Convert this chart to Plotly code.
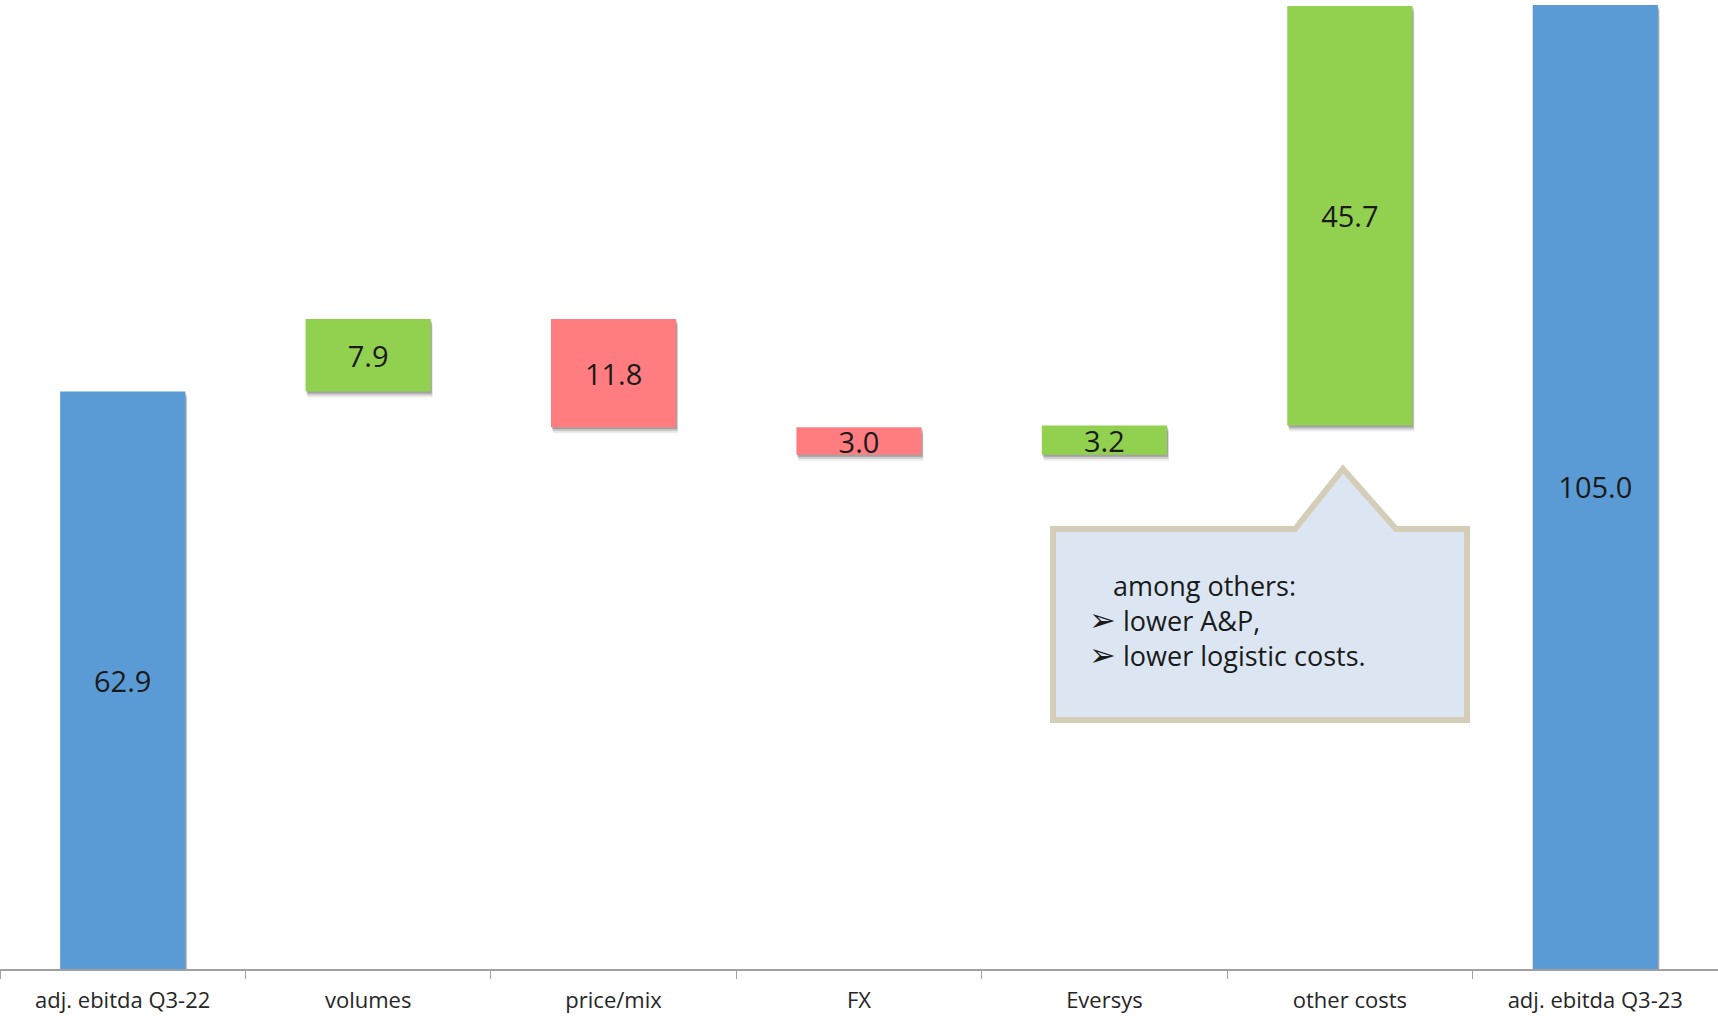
import plotly.graph_objects as go

categories = ["adj. ebitda Q3-22", "volumes", "price/mix", "FX", "Eversys", "other costs", "adj. ebitda Q3-23"]
measures = ["absolute", "relative", "relative", "relative", "relative", "relative", "absolute"]
values = [62.9, 7.9, -11.8, -3.0, 3.2, 45.7, 105.0]
labels = ["62.9", "7.9", "11.8", "3.0", "3.2", "45.7", "105.0"]
note_lines = ["among others:", "lower A&P,", "lower logistic costs."]

BLUE = "#5B9BD5"
GREEN = "#92D050"
RED = "#FF7C80"
FONT = "Open Sans"

W, H = 1718, 1016
M_B = 47
PLOT_H = H - M_B
Y_MAX = 105.54
px_per_unit = PLOT_H / Y_MAX
bar_w = 0.51

fig = go.Figure()

# soft shadows (layers)
for dy_px, dx_px, alpha in [(6, 2, 0.07), (4, 1.5, 0.14), (2, 1, 0.2)]:
    fig.add_trace(go.Waterfall(
        x=categories, y=values, measure=measures,
        base=-dy_px / px_per_unit,
        width=[bar_w] * len(values),
        offset=[-bar_w / 2 + dx_px / 245.4] * len(values),
        increasing=dict(marker=dict(color=f"rgba(0,0,0,{alpha})")),
        decreasing=dict(marker=dict(color=f"rgba(0,0,0,{alpha})")),
        totals=dict(marker=dict(color=f"rgba(0,0,0,{alpha})")),
        connector=dict(visible=False), hoverinfo="skip", showlegend=False,
    ))

fig.add_trace(go.Waterfall(
    x=categories, y=values, measure=measures,
    width=[bar_w] * len(values),
    offset=[-bar_w / 2] * len(values),
    text=labels, texttemplate="%{text}", textposition="inside",
    insidetextanchor="middle",
    textfont=dict(family=FONT, size=29, color="#1a1a1a"),
    increasing=dict(marker=dict(color=GREEN)),
    decreasing=dict(marker=dict(color=RED)),
    totals=dict(marker=dict(color=BLUE)),
    connector=dict(visible=False), hoverinfo="skip", showlegend=False,
))

# callout box (paper coordinates from pixel geometry)
def px(x):
    return x / W

def py(y):
    return 1 - y / PLOT_H

bx0, bx1, by0, by1 = 1053, 1467, 529, 720
tx0, tx1, tax, tay = 1295, 1396, 1343, 469
path = (f"M {px(bx0)},{py(by0)} L {px(tx0)},{py(by0)} L {px(tax)},{py(tay)} "
        f"L {px(tx1)},{py(by0)} L {px(bx1)},{py(by0)} L {px(bx1)},{py(by1)} "
        f"L {px(bx0)},{py(by1)} Z")
fig.add_shape(type="path", path=path, xref="paper", yref="paper",
              fillcolor="#DCE6F2", line=dict(color="#D4CDB8", width=6), layer="above")

fig.add_annotation(text=note_lines[0], xref="paper", yref="paper", x=px(1111), y=py(585),
                   xanchor="left", yanchor="middle", showarrow=False,
                   font=dict(family=FONT, size=27, color="#1a1a1a"))
for txt, y0 in zip(note_lines[1:], [620, 655]):
    fig.add_annotation(text="\u27a2", xref="paper", yref="paper", x=px(1087), y=py(y0),
                       xanchor="left", yanchor="middle", showarrow=False,
                       font=dict(family="DejaVu Sans", size=32, color="#1a1a1a"))
    fig.add_annotation(text=txt, xref="paper", yref="paper", x=px(1121), y=py(y0),
                       xanchor="left", yanchor="middle", showarrow=False,
                       font=dict(family=FONT, size=27, color="#1a1a1a"))

fig.update_layout(
    width=W, height=H,
    margin=dict(l=0, r=0, t=0, b=M_B, autoexpand=False),
    plot_bgcolor="white", paper_bgcolor="white",
    waterfallmode="overlay",
    uniformtext=dict(minsize=29, mode="show"),
    xaxis=dict(type="category", categoryorder="array", categoryarray=categories,
               range=[-0.5, len(categories) - 0.5],
               showline=True, linecolor="#A0A0A0", linewidth=1.5,
               ticks="outside", tickson="boundaries", ticklen=8, tickcolor="#A0A0A0",
               ticklabelstandoff=11,
               tickfont=dict(family=FONT, size=22, color="#262626"),
               showgrid=False, zeroline=False, automargin=False),
    yaxis=dict(range=[0, Y_MAX], visible=False, showgrid=False, zeroline=False),
)

fig.write_html("out.html", config={"displayModeBar": False},
               post_script="document.body.style.margin='0px';")
